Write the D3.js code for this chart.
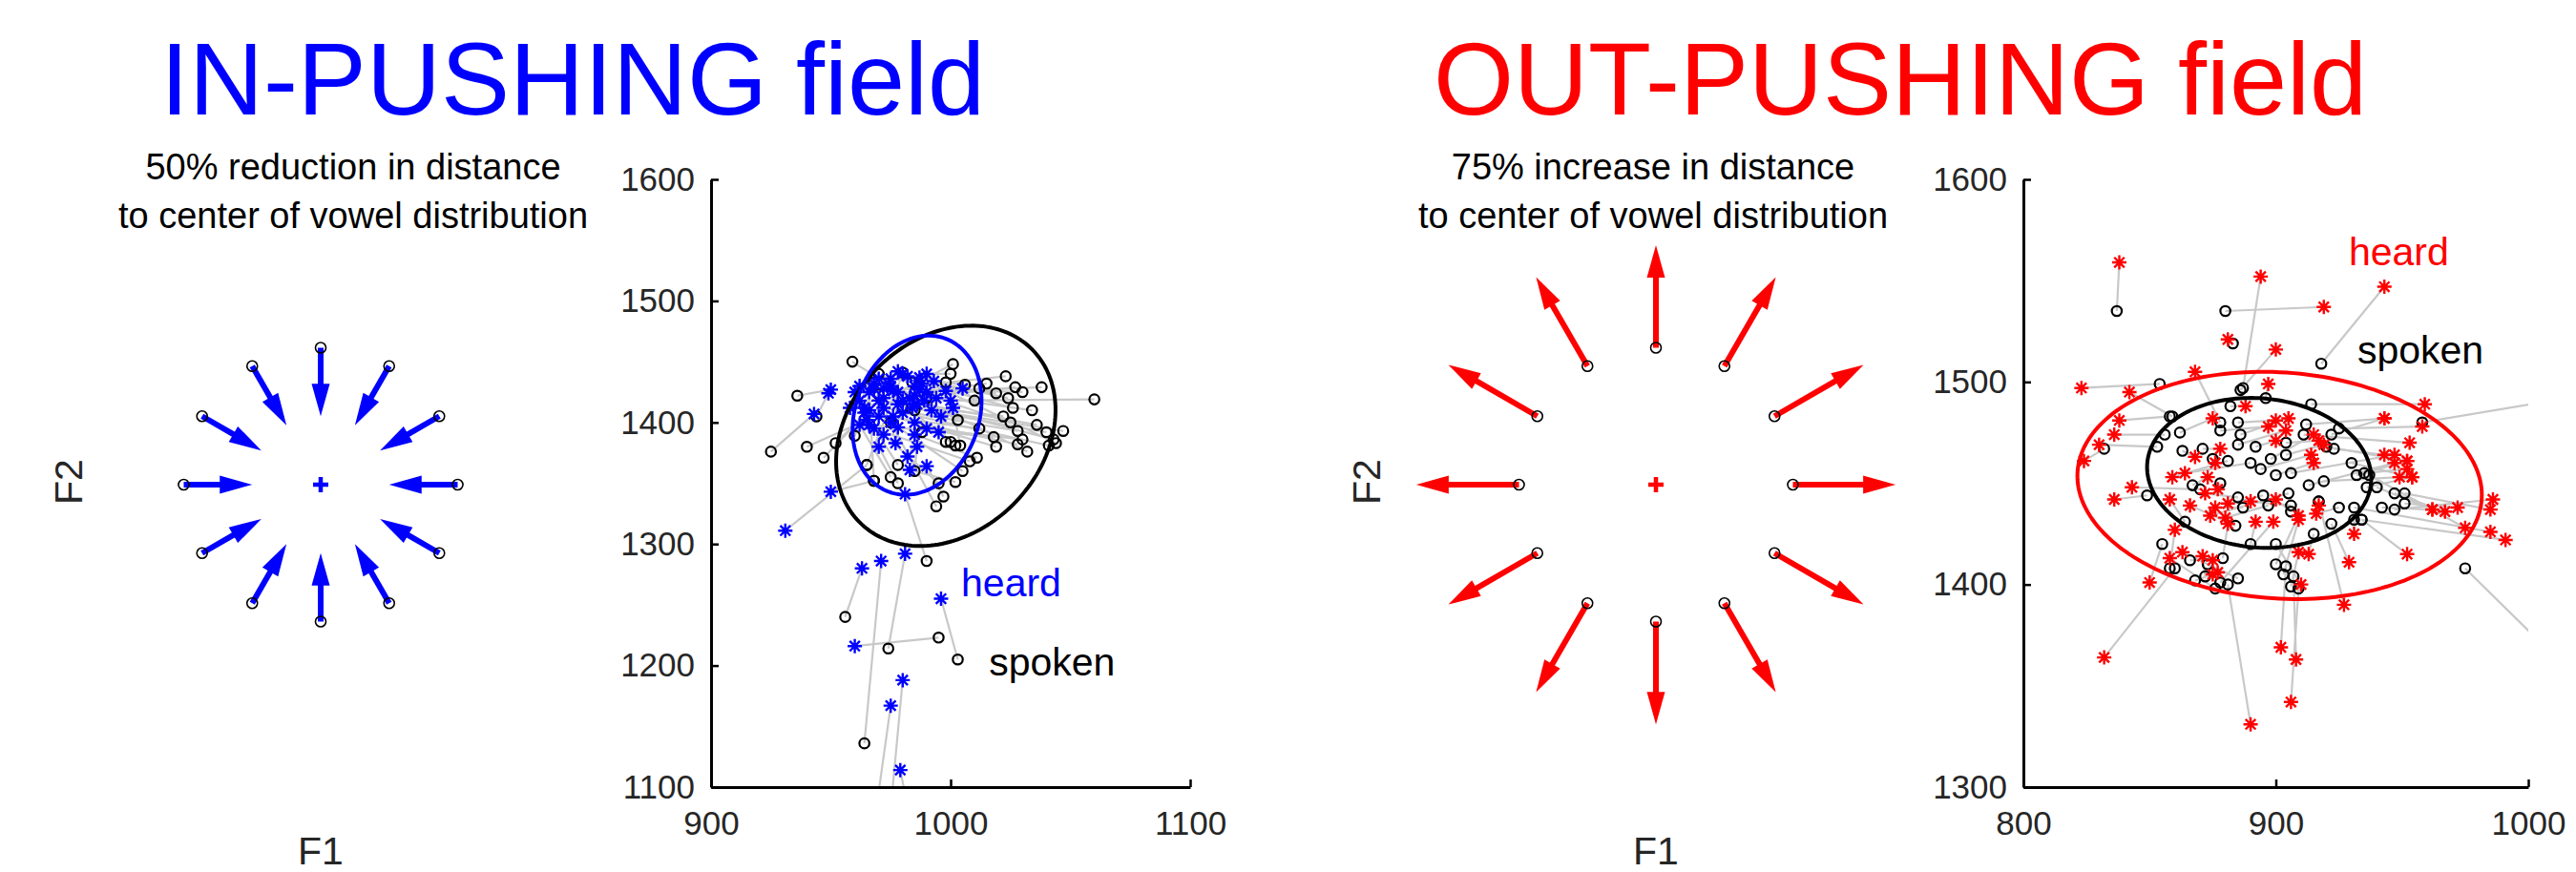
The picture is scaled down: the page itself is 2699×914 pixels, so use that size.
<!DOCTYPE html>
<html>
<head>
<meta charset="utf-8">
<title>IN-PUSHING / OUT-PUSHING field</title>
<script src="https://d3js.org/d3.v7.min.js"></script>
<style>
body { margin: 0; background: white; font-family: "Liberation Sans", Arial, sans-serif; }
</style>
</head>
<body>
<script>
// page size
var width = 2699;
var height = 914;

// text
var titles = ["IN-PUSHING field", "OUT-PUSHING field"];
var subtitlesIn = ["50% reduction in distance", "to center of vowel distribution"];
var subtitlesOut = ["75% increase in distance", "to center of vowel distribution"];

// arrow panels: 12 directions, distance factor for each field
var arrowAngles = [0, 30, 60, 90, 120, 150, 180, 210, 240, 270, 300, 330];
var inFactor = 0.5;
var outFactor = 1.75;

// axis ticks
var leftXTicks = [900, 1000, 1100];
var leftYTicks = [1100, 1200, 1300, 1400, 1500, 1600];
var rightXTicks = [800, 900, 1000];
var rightYTicks = [1300, 1400, 1500, 1600];

// in-pushing: spoken (F1,F2) and heard (F1,F2), same order
var leftSpoken = [[956,1240],[964,1136],[974,1214],[995,1223],[1003,1205],[973,1040],[966,1040],[983,1075],
  [965,1365],[968,1352],[990,1286],[925,1376],[936,1422],[944,1405],[940,1380],[947,1371],[952,1383],[959,1450],
  [1001,1448],[1023,1438],[1027,1429],[1038,1429],[1060,1419],[1047,1393],[1043,1386],[1041,1381],[1028,1382],
  [1019,1380],[1019,1424],[1024,1420],[1026,1412],[1022,1405],[1028,1393],[1030,1386],[1002,1351],[997,1339],
  [994,1331],[1011,1371],[1008,1368],[1000,1384],[1002,1381],[978,1365],[975,1355],[978,1350],[968,1352],
  [965,1365],[960,1389],[980,1441],[984,1433],[968,1433],[998,1433],[1006,1431],[970,1423],[988,1392],
  [998,1384],[1004,1381],[1010,1418],[1003,1402],[975,1400],[985,1410],
  [1015,1432],[1030,1425],[1034,1410],[1036,1398],[1040,1392],[1012,1395],[1018,1388],[1005,1360],[995,1350],
  [985,1360],[970,1440],[1000,1440],[1025,1400],[1044,1383],[1032,1376],[1012,1428],[990,1420],[980,1412]];
var leftHeard = [[963,1280],[971,1286],[981,1292],[960,1216],[996,1255],[980,1188],[975,1167],[979,1114],
  [931,1311],[950,1343],[981,1341],[943,1407],[950,1427],[949,1424],[965,1402],[966,1410],[970,1418],[975,1430],
  [978,1425],[985,1430],[983,1420],[990,1425],[1000,1418],[992,1410],[986,1415],[980,1408],[985,1400],
  [976,1405],[975,1436],[982,1438],[988,1432],[978,1415],[972,1412],[990,1395],[983,1361],[990,1364],
  [975,1400],[985,1390],[968,1395],[972,1428],[995,1392],[964,1408],[962,1398],[970,1380],[966,1425],
  [980,1440],[968,1432],[970,1436],[978,1442],[962,1418],[987,1437],[993,1434],[964,1412],[982,1372],
  [996,1405],[1001,1412],[1005,1428],[985,1422],[977,1383],[989,1418],
  [972,1420],[968,1428],[976,1426],[980,1418],[984,1412],[970,1405],[966,1398],[978,1396],[972,1390],
  [986,1380],[960,1425],[990,1440],[994,1420],[998,1426],[974,1432],[958,1412],[962,1430],[987,1427]];

// out-pushing: spoken and heard
var rightSpoken = [[837,1535],[887,1497],[880,1535],[918,1509],[883,1519],[886,1496],[878,1480],[854,1499],
  [859,1483],[914,1489],[958,1480],[925,1477],[882,1488],[853,1468],[856,1474],[858,1483],[862,1475],[832,1467],
  [885,1480],[886,1474],[878,1476],[863,1466],[885,1469],[892,1468],[898,1462],[904,1470],[904,1464],[911,1474],
  [922,1474],[923,1467],[871,1467],[875,1462],[881,1461],[890,1460],[894,1457],[900,1454],[906,1455],[913,1449],
  [919,1451],[932,1454],[936,1448],[942,1438],[947,1445],[849,1444],[870,1447],[867,1449],[878,1450],[885,1443],
  [887,1438],[895,1444],[897,1439],[905,1445],[906,1439],[906,1436],[917,1441],[925,1438],[931,1432],[864,1431],
  [884,1429],[890,1420],[878,1401],[858,1408],[879,1413],[900,1410],[903,1405],[906,1399],[975,1408],[860,1408],
  [904,1409],[907,1404],[909,1398],[881,1400],[885,1403],[876,1398],[872,1404],[866,1412],[873,1410],[868,1402],
  [855,1420],[900,1420],[917,1441],[934,1432],[922,1430],[915,1425],[947,1437],[951,1445],[951,1440],[940,1448],
  [937,1454],[931,1438],[934,1432],[920,1468],[935,1455],[930,1460],[912,1479],[896,1492]];
var rightHeard = [[838,1559],[894,1552],[919,1537],[943,1547],[881,1521],[900,1516],[868,1505],[823,1497],
  [842,1495],[959,1489],[1030,1495],[958,1478],[888,1488],[830,1469],[836,1474],[838,1481],[875,1482],[824,1461],
  [900,1481],[905,1482],[897,1478],[868,1463],[904,1476],[900,1471],[915,1474],[917,1471],[919,1469],[953,1470],
  [943,1482],[943,1464],[878,1467],[876,1460],[859,1453],[864,1455],[914,1464],[915,1460],[947,1464],[947,1460],
  [949,1453],[952,1461],[954,1453],[962,1437],[967,1436],[836,1442],[843,1448],[873,1453],[877,1447],[872,1445],
  [876,1438],[881,1440],[880,1433],[874,1434],[890,1441],[900,1442],[917,1439],[916,1435],[931,1425],[858,1442],
  [866,1439],[892,1431],[899,1431],[860,1427],[881,1430],[909,1434],[909,1432],[909,1416],[1010,1365],[832,1364],
  [902,1369],[908,1363],[906,1342],[890,1331],[863,1416],[858,1413],[871,1414],[875,1412],[877,1406],[875,1405],
  [850,1401],[910,1400],[927,1390],[952,1415],[929,1411],[913,1415],[986,1442],[985,1437],[972,1438],[962,1437],
  [975,1428],[985,1426],[991,1422],[952,1461],[952,1457],[954,1453],[943,1482],[897,1499]];

// ellipses: [centre F1, centre F2, L11, L21, L22] (F1 = c1 + L11 cos t, F2 = c2 + L21 cos t + L22 sin t)
var leftSpokenEllipse = [998, 1389, 45.8, 21.2, 88.1];
var leftHeardEllipse = [986, 1406, 26.9, 11.8, 64.4];
var rightSpokenEllipse = [893.4, 1455.1, 44.4, -2.8, 36.9];
var rightHeardEllipse = [901.5, 1448.9, 80.1, -4.7, 55.9];

var blue = "#0000ff";
var red = "#ff0000";
var textCol = "#262626";

var svg = d3.select("body").append("svg")
  .attr("width", width)
  .attr("height", height);

// big titles
svg.append("text").attr("x", 600).attr("y", 120).attr("text-anchor", "middle")
  .attr("font-size", 108).attr("fill", blue).text(titles[0]);
svg.append("text").attr("x", 1991).attr("y", 120).attr("text-anchor", "middle")
  .attr("font-size", 108).attr("fill", red).text(titles[1]);

// subtitles
function subtitle(cx, lines) {
  lines.forEach(function(t, i) {
    svg.append("text").attr("x", cx).attr("y", 188 + i * 51)
      .attr("text-anchor", "middle").attr("font-size", 38).attr("fill", "#000").text(t);
  });
}
subtitle(370, subtitlesIn);
subtitle(1732, subtitlesOut);

// arrow panel
function arrowPanel(cx, factor, color, f2x) {
  var r = 143.5, cy = 508;
  var x = d3.scaleLinear().domain([-1, 1]).range([cx - r, cx + r]);
  var y = d3.scaleLinear().domain([-1, 1]).range([cy + r, cy - r]);
  var g = svg.append("g");
  var headLen = 34, headW = 19;

  arrowAngles.forEach(function(a) {
    var ang = a * Math.PI / 180;
    var x0 = x(Math.cos(ang)), y0 = y(Math.sin(ang));
    var x1 = x(factor * Math.cos(ang)), y1 = y(factor * Math.sin(ang));
    var dx = x1 - x0, dy = y1 - y0, len = Math.sqrt(dx * dx + dy * dy);
    var ux = dx / len, uy = dy / len;
    var bx = x1 - ux * headLen, by = y1 - uy * headLen;
    g.append("line")
      .attr("x1", x0).attr("y1", y0).attr("x2", bx + ux * 2).attr("y2", by + uy * 2)
      .attr("stroke", color).attr("stroke-width", 6);
    g.append("path")
      .attr("d", "M" + x1 + "," + y1 +
        "L" + (bx - uy * headW / 2) + "," + (by + ux * headW / 2) +
        "L" + (bx + uy * headW / 2) + "," + (by - ux * headW / 2) + "Z")
      .attr("fill", color);
    g.append("circle").attr("cx", x0).attr("cy", y0).attr("r", 5.5)
      .attr("fill", "none").attr("stroke", "#000").attr("stroke-width", 1.6);
  });

  // centre of distribution
  g.append("path")
    .attr("d", "M" + (x(0) - 8) + "," + y(0) + "H" + (x(0) + 8) + "M" + x(0) + "," + (y(0) - 8) + "V" + (y(0) + 8))
    .attr("stroke", color).attr("stroke-width", 4.5);

  g.append("text").attr("x", x(0)).attr("y", 906).attr("text-anchor", "middle")
    .attr("font-size", 41).attr("fill", textCol).text("F1");
  g.append("text").attr("transform", "translate(" + f2x + ",505) rotate(-90)")
    .attr("text-anchor", "middle").attr("font-size", 41).attr("fill", textCol).text("F2");
}
arrowPanel(336, inFactor, blue, 86);
arrowPanel(1735, outFactor, red, 1446);

// scatter panel
var asterisk = "M-7.5,0H7.5M0,-7.5V7.5M-5.3,-5.3L5.3,5.3M-5.3,5.3L5.3,-5.3";

function scatterPanel(id, xDomain, xRange, yDomain, xTicks, yTicks, spoken, heard, ellS, ellH, color, labels) {
  var x = d3.scaleLinear().domain(xDomain).range(xRange);
  var y = d3.scaleLinear().domain(yDomain).range([825, 188]);
  var g = svg.append("g");

  svg.append("clipPath").attr("id", id).append("rect")
    .attr("x", xRange[0]).attr("y", 188)
    .attr("width", xRange[1] - xRange[0]).attr("height", 825 - 188);
  var plot = g.append("g").attr("clip-path", "url(#" + id + ")");

  // grey links spoken -> heard
  plot.selectAll("line.link").data(spoken).enter().append("line")
    .attr("class", "link")
    .attr("x1", function(d) { return x(d[0]); })
    .attr("y1", function(d) { return y(d[1]); })
    .attr("x2", function(d, i) { return x(heard[i][0]); })
    .attr("y2", function(d, i) { return y(heard[i][1]); })
    .attr("stroke", "#c8c8c8").attr("stroke-width", 2.2);

  plot.selectAll("circle.spoken").data(spoken).enter().append("circle")
    .attr("class", "spoken")
    .attr("cx", function(d) { return x(d[0]); })
    .attr("cy", function(d) { return y(d[1]); })
    .attr("r", 5.2).attr("fill", "none").attr("stroke", "#000").attr("stroke-width", 2.2);

  plot.selectAll("path.heard").data(heard).enter().append("path")
    .attr("class", "heard")
    .attr("transform", function(d) { return "translate(" + x(d[0]) + "," + y(d[1]) + ")"; })
    .attr("d", asterisk).attr("stroke", color).attr("stroke-width", 2.4);

  // ellipses
  var ts = d3.range(0, 2 * Math.PI + 0.001, Math.PI / 90);
  var line = d3.line().curve(d3.curveLinearClosed);
  function ellipse(e, col) {
    plot.append("path")
      .attr("d", line(ts.map(function(t) {
        return [x(e[0] + e[2] * Math.cos(t)), y(e[1] + e[3] * Math.cos(t) + e[4] * Math.sin(t))];
      })))
      .attr("fill", "none").attr("stroke", col).attr("stroke-width", 4);
  }
  ellipse(ellS, "#000");
  ellipse(ellH, color);

  // axes
  var xAxis = g.append("g").attr("transform", "translate(0,825)")
    .call(d3.axisBottom(x).tickValues(xTicks).tickFormat(d3.format("d"))
      .tickSizeInner(-8).tickSizeOuter(0).tickPadding(25));
  var yAxis = g.append("g").attr("transform", "translate(" + xRange[0] + ",0)")
    .call(d3.axisLeft(y).tickValues(yTicks).tickFormat(d3.format("d"))
      .tickSizeInner(-8).tickSizeOuter(0).tickPadding(17));
  [xAxis, yAxis].forEach(function(a) {
    a.attr("font-family", null).attr("font-size", null);
    a.select(".domain").attr("stroke", "#000").attr("stroke-width", 3);
    a.selectAll(".tick line").attr("stroke", "#000").attr("stroke-width", 2.5);
    a.selectAll(".tick text").attr("font-size", 35).attr("fill", textCol);
  });

  // labels
  g.append("text").attr("x", x(labels[0][0])).attr("y", y(labels[0][1]))
    .attr("font-size", 41).attr("fill", color).text("heard");
  g.append("text").attr("x", x(labels[1][0])).attr("y", y(labels[1][1]))
    .attr("font-size", 41).attr("fill", "#000").text("spoken");
}

scatterPanel("clipL", [900, 1100], [745, 1247], [1100, 1600], leftXTicks, leftYTicks,
  leftSpoken, leftHeard, leftSpokenEllipse, leftHeardEllipse, blue, [[1004.4, 1257], [1016, 1192]]);
scatterPanel("clipR", [800, 1000], [2120, 2649], [1300, 1600], rightXTicks, rightYTicks,
  rightSpoken, rightHeard, rightSpokenEllipse, rightHeardEllipse, red, [[928.9, 1557.5], [932.3, 1509]]);
</script>
</body>
</html>
